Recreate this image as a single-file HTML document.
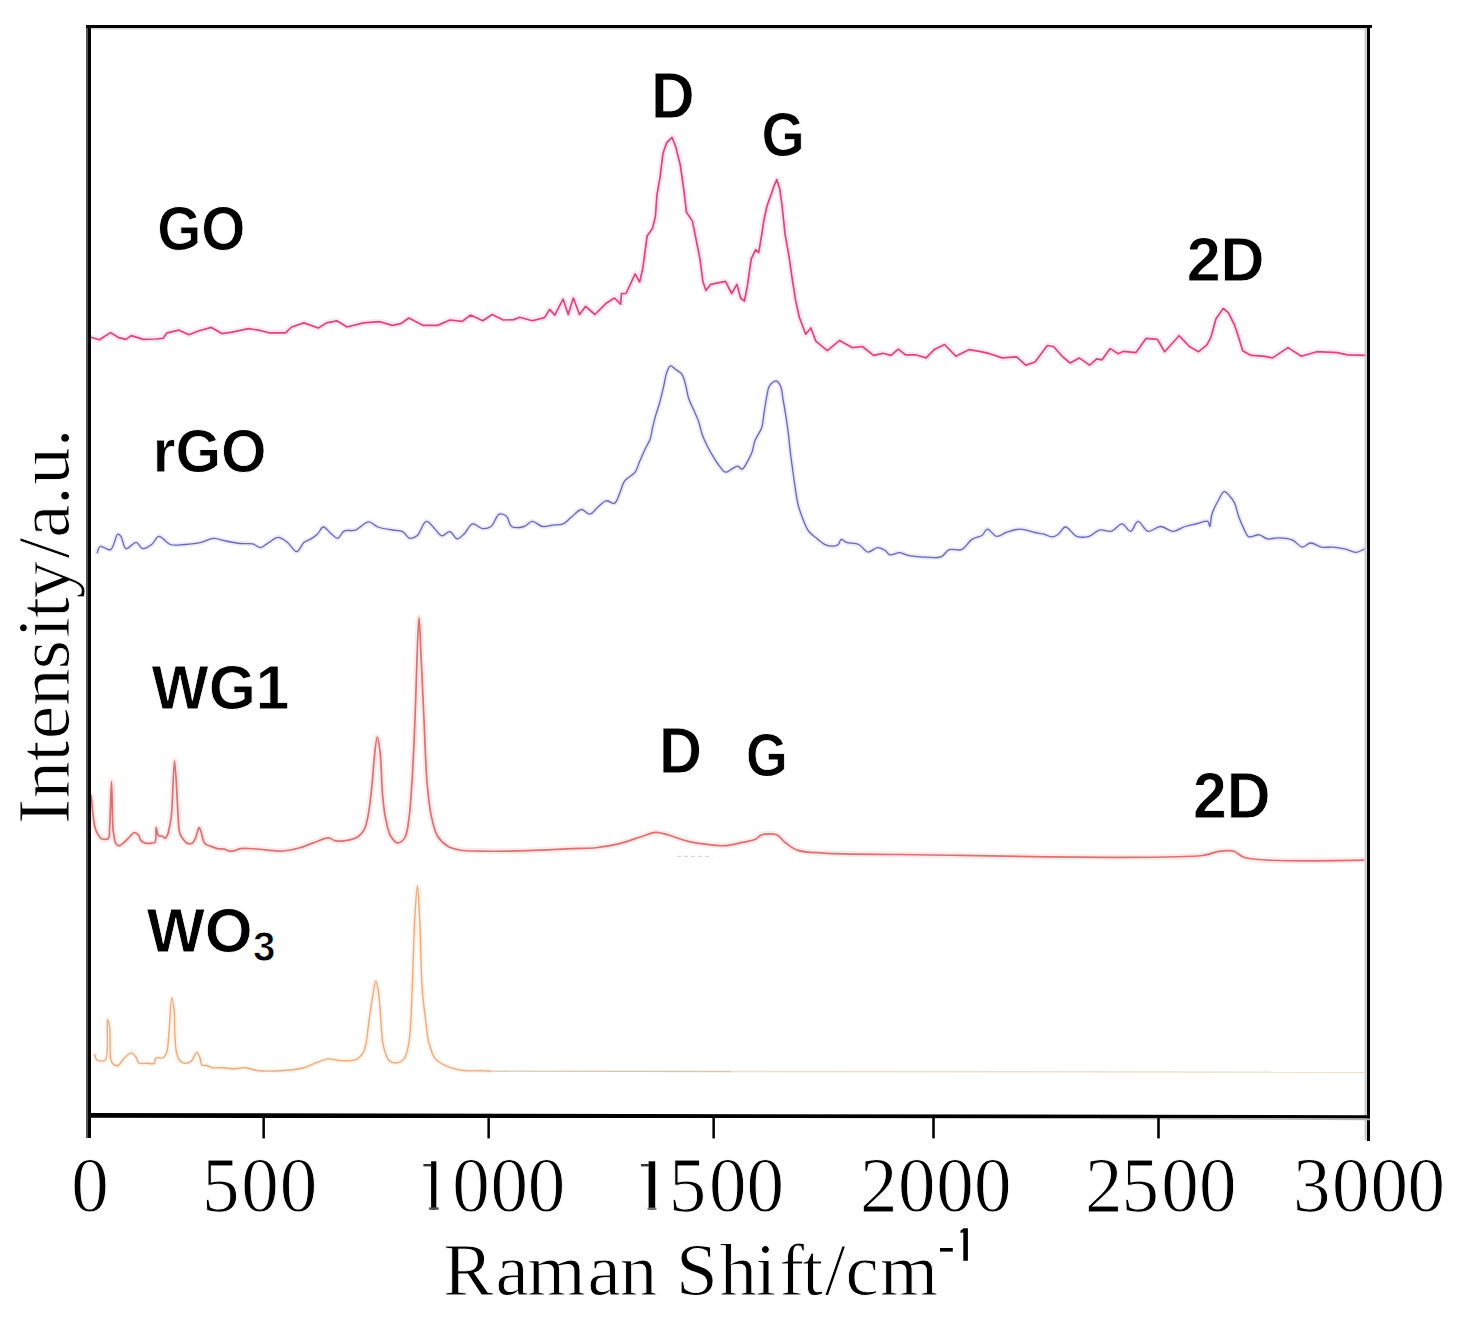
<!DOCTYPE html>
<html><head><meta charset="utf-8"><style>
html,body{margin:0;padding:0;background:#fff;}
body{width:1459px;height:1328px;overflow:hidden;}
svg{display:block;}
.ser{font-family:"Liberation Serif",serif;fill:#000;stroke:#fff;stroke-width:0.9px;}
.sans{font-family:"Liberation Sans",sans-serif;fill:#000;}
.lab{font-family:"Liberation Sans",sans-serif;font-weight:bold;fill:#000;stroke:#fff;stroke-width:0.8px;}
</style></head><body>
<svg width="1459" height="1328" viewBox="0 0 1459 1328">
<rect x="0" y="0" width="1459" height="1328" fill="#fff"/>
<g fill="none" stroke-linejoin="round" stroke-linecap="round">
<polyline points="91.0,337.3 99.3,339.8 110.6,332.6 118.8,337.7 126.0,339.4 131.2,335.6 143.5,339.4 155.9,339.0 163.0,338.3 167.2,332.8 178.5,330.1 188.8,334.8 199.0,330.7 211.4,327.4 221.7,333.6 232.0,332.2 248.4,328.7 258.7,330.1 269.0,332.8 285.4,332.8 291.6,327.0 303.9,322.9 318.3,328.0 326.5,322.9 336.8,320.8 347.1,327.0 363.5,322.9 375.9,321.9 380.0,321.7 392.3,325.4 400.6,323.7 408.8,318.0 423.2,325.4 437.6,325.4 449.9,320.0 462.3,321.3 470.5,315.1 482.8,320.7 492.1,314.5 503.4,320.0 513.7,319.6 519.8,317.2 532.2,320.7 544.5,317.6 549.6,309.4 554.8,315.1 563.0,299.1 568.2,314.5 573.3,298.0 579.5,314.5 585.6,306.3 594.9,314.5 606.2,303.2 614.4,298.0 620.6,304.2 621.5,293.5 626.0,293.5 635.1,273.8 639.6,282.1 642.6,269.3 644.9,252.7 647.1,236.1 652.4,228.6 655.4,216.5 656.9,195.4 660.0,177.3 663.0,153.2 666.7,142.6 672.0,137.3 675.8,147.1 680.3,165.2 683.3,186.4 685.6,204.5 686.3,212.0 692.4,221.1 693.9,228.6 696.9,243.7 699.9,258.8 702.9,281.4 705.9,290.4 710.5,284.4 718.0,282.9 725.5,281.4 731.6,293.5 736.9,284.4 740.6,298.0 744.4,301.0 747.4,285.9 751.2,258.8 755.7,249.7 758.7,252.7 761.7,234.6 764.0,219.5 767.0,206.0 770.8,195.4 773.8,186.4 776.8,179.6 779.8,189.4 782.1,206.0 785.1,234.6 788.9,255.7 791.9,276.9 795.7,301.0 799.4,317.6 800.6,320.8 805.7,334.2 810.8,328.0 816.0,341.4 827.3,350.7 839.6,340.4 852.0,347.6 862.3,346.5 873.6,355.4 882.8,353.3 891.0,355.4 898.2,349.2 905.4,354.8 915.7,354.8 926.0,357.9 934.2,349.6 944.5,344.5 955.8,356.2 969.2,349.6 979.5,351.3 989.7,353.7 1002.1,357.9 1016.5,356.8 1025.7,365.1 1035.0,362.0 1047.3,345.5 1053.5,346.5 1061.7,355.8 1070.0,363.0 1079.3,357.9 1089.5,365.1 1096.7,358.9 1101.9,359.9 1110.1,348.6 1118.3,353.7 1123.5,351.3 1135.8,352.7 1146.1,338.3 1157.4,339.4 1164.6,351.7 1179.0,335.7 1189.3,346.5 1198.5,351.7 1206.7,345.1 1210.9,337.3 1216.0,318.8 1223.2,308.5 1228.3,312.6 1234.5,325.0 1238.6,337.3 1242.7,350.7 1251.0,355.4 1263.3,356.2 1272.5,357.9 1288.0,347.6 1301.3,356.2 1316.8,351.7 1337.3,352.7 1347.6,354.8 1366.1,355.4" stroke="#ffe6f1" stroke-width="6"/>
<path d="M97.30,552.70 C97.30,552.70 98.52,547.28 100.30,546.50 C102.52,545.52 107.84,550.83 110.60,549.60 C114.07,548.05 115.53,534.82 117.80,534.20 C118.86,533.91 119.91,535.09 120.90,536.30 C122.76,538.58 123.32,547.72 126.00,548.60 C128.55,549.44 133.41,542.05 136.30,542.40 C138.77,542.70 140.05,548.15 142.50,548.60 C145.13,549.09 149.01,546.48 151.70,544.50 C154.50,542.44 156.06,536.62 158.90,536.30 C162.13,535.93 166.04,543.13 170.30,544.50 C174.60,545.89 179.67,544.81 184.60,544.50 C189.91,544.16 196.05,543.55 201.10,542.40 C205.55,541.38 209.26,538.52 213.40,538.30 C217.50,538.08 221.50,540.16 225.80,541.00 C230.41,541.90 235.57,543.03 240.20,543.50 C244.45,543.94 248.89,543.06 252.50,543.90 C255.59,544.62 258.01,547.78 260.70,547.60 C263.51,547.41 266.14,544.09 269.00,542.40 C271.97,540.65 275.12,537.31 278.20,537.30 C281.29,537.29 284.56,540.18 287.50,542.40 C290.76,544.86 293.91,551.87 296.70,551.70 C299.35,551.54 301.33,544.48 303.90,542.40 C305.87,540.81 308.01,540.65 310.10,539.40 C312.47,537.98 315.11,536.23 317.30,534.20 C319.56,532.11 321.19,527.17 323.40,527.00 C325.62,526.83 328.15,531.29 330.60,533.20 C332.96,535.04 335.60,538.57 337.80,538.30 C340.08,538.02 341.27,532.50 344.00,531.10 C346.98,529.57 351.52,531.35 355.30,530.10 C359.75,528.63 364.63,521.99 368.70,521.90 C372.03,521.83 374.38,525.69 377.90,527.00 C382.06,528.55 387.89,529.18 392.30,530.00 C396.01,530.69 399.65,530.27 402.60,531.70 C405.45,533.09 407.23,537.77 409.80,538.30 C412.07,538.77 414.73,537.58 417.00,535.80 C420.40,533.13 422.92,521.86 426.30,521.40 C429.17,521.01 432.77,527.02 435.50,529.60 C437.80,531.78 439.33,535.42 441.70,535.80 C444.12,536.19 447.39,531.29 449.90,531.70 C452.55,532.13 454.61,538.70 457.10,538.90 C459.42,539.09 461.96,535.88 464.30,533.70 C467.11,531.08 469.30,524.63 472.50,523.90 C475.52,523.22 479.51,528.31 482.80,528.60 C485.64,528.85 488.54,528.23 491.00,526.50 C494.25,524.21 496.18,515.33 499.30,514.20 C501.52,513.40 504.56,514.68 506.50,516.30 C508.90,518.30 508.80,524.77 511.60,526.50 C514.51,528.30 520.32,527.51 523.90,526.50 C527.08,525.60 529.25,521.53 532.20,521.40 C535.39,521.26 538.90,525.92 542.40,526.50 C545.74,527.05 549.26,525.53 552.70,525.10 C556.13,524.67 559.93,525.19 563.00,523.90 C566.10,522.60 568.29,519.57 571.20,517.30 C574.42,514.79 578.19,509.71 581.50,509.50 C584.33,509.32 587.05,514.46 589.70,514.20 C592.56,513.92 595.20,509.27 598.00,507.00 C600.71,504.81 603.33,501.31 606.20,500.80 C608.82,500.33 612.23,504.20 614.40,503.30 C616.86,502.29 617.99,497.08 619.60,493.60 C621.38,489.77 621.96,484.74 624.50,481.20 C627.09,477.58 632.55,475.66 635.10,472.20 C637.42,469.05 638.03,465.25 639.60,461.60 C641.28,457.70 643.08,453.37 644.90,449.50 C646.62,445.85 648.94,442.59 650.20,439.00 C651.40,435.55 651.57,432.03 652.40,428.40 C653.29,424.52 654.28,420.39 655.40,416.40 C656.54,412.36 657.95,408.76 659.20,404.30 C660.72,398.89 662.38,391.81 663.70,386.20 C664.84,381.35 665.30,376.27 666.70,372.60 C667.74,369.85 668.89,366.16 670.50,365.80 C671.98,365.47 673.99,368.27 675.80,369.60 C677.75,371.03 680.23,371.98 681.80,374.10 C683.72,376.70 684.51,380.91 685.60,384.70 C686.82,388.92 687.18,393.98 688.60,398.30 C689.97,402.50 692.22,406.42 693.90,410.30 C695.48,413.94 697.07,417.10 698.40,420.90 C699.87,425.11 700.64,430.16 702.20,434.50 C703.70,438.68 705.58,442.67 707.50,446.50 C709.35,450.19 711.44,453.75 713.50,457.10 C715.44,460.26 717.37,463.48 719.50,466.10 C721.40,468.43 723.35,471.83 725.50,472.20 C727.42,472.53 729.58,470.22 731.60,469.20 C733.61,468.18 735.78,465.98 737.60,466.10 C739.24,466.20 740.66,469.46 742.10,469.20 C743.97,468.86 745.79,464.30 747.40,461.60 C749.07,458.78 750.67,455.89 751.90,452.60 C753.27,448.93 753.46,444.50 755.00,440.50 C756.65,436.20 760.20,432.22 761.70,427.70 C763.21,423.16 763.17,418.37 764.00,413.30 C764.93,407.61 765.95,400.17 767.00,395.20 C767.74,391.66 767.73,388.61 769.30,386.20 C770.82,383.88 774.15,380.70 776.10,380.90 C777.85,381.08 779.50,383.89 780.60,386.20 C782.07,389.27 782.11,393.86 782.90,398.30 C783.86,403.72 785.00,410.65 785.90,416.40 C786.72,421.63 787.41,425.96 788.10,431.40 C788.92,437.85 789.60,445.97 790.40,452.60 C791.11,458.48 791.85,463.68 792.60,469.20 C793.35,474.71 794.04,480.08 794.90,485.70 C795.80,491.60 796.61,498.41 797.90,503.80 C798.97,508.28 800.10,511.69 801.70,515.90 C803.53,520.71 805.71,527.16 808.50,531.00 C810.68,534.00 813.32,535.59 816.00,537.80 C818.84,540.14 821.90,543.23 825.10,544.60 C827.97,545.82 831.71,546.35 834.10,546.10 C835.76,545.93 837.05,545.46 838.20,544.50 C839.53,543.38 839.92,539.75 841.30,539.40 C842.68,539.05 844.31,541.61 846.50,542.40 C849.65,543.54 855.19,542.84 858.80,544.50 C862.33,546.12 864.80,551.71 868.00,552.10 C870.98,552.46 874.27,547.74 877.30,547.60 C880.09,547.48 883.35,549.31 885.50,550.70 C887.25,551.83 887.73,554.24 889.60,554.80 C892.12,555.56 896.69,552.51 899.90,552.70 C902.81,552.87 905.05,554.73 908.10,555.40 C911.77,556.20 915.84,556.54 920.50,556.80 C926.47,557.14 935.93,558.69 941.00,556.80 C944.71,555.41 945.99,550.83 949.30,549.60 C952.80,548.29 957.95,551.10 961.60,549.60 C965.56,547.97 968.21,541.84 971.90,539.40 C975.13,537.26 979.54,537.14 982.20,535.20 C984.45,533.56 985.22,529.33 987.30,529.10 C989.83,528.83 993.29,535.84 996.60,536.30 C999.80,536.75 1003.12,533.36 1006.80,532.20 C1010.92,530.91 1015.73,529.10 1020.20,529.10 C1024.67,529.10 1029.42,531.31 1033.60,532.20 C1037.25,532.98 1040.69,533.36 1043.90,534.20 C1046.81,534.96 1049.58,537.02 1052.10,536.90 C1054.33,536.80 1056.29,535.58 1058.30,534.20 C1060.75,532.51 1062.68,527.15 1065.40,527.00 C1068.68,526.82 1072.64,534.82 1076.80,536.30 C1080.60,537.65 1085.32,537.35 1089.10,536.30 C1092.84,535.26 1095.66,530.98 1099.40,530.10 C1103.19,529.21 1107.95,532.12 1111.70,531.10 C1115.49,530.07 1118.77,523.75 1122.00,523.90 C1125.08,524.05 1128.09,531.61 1130.70,531.30 C1133.41,530.98 1135.14,521.64 1137.90,521.40 C1140.88,521.14 1144.26,530.52 1148.10,531.30 C1151.82,532.06 1156.38,526.49 1160.50,526.50 C1164.61,526.51 1168.69,531.29 1172.80,531.30 C1176.92,531.31 1181.03,527.81 1185.20,526.50 C1189.27,525.22 1193.57,524.38 1197.50,523.50 C1201.08,522.70 1205.82,520.33 1207.80,521.40 C1209.23,522.18 1209.21,526.56 1209.80,526.50 C1210.68,526.41 1210.63,518.30 1211.90,514.20 C1213.29,509.74 1215.88,504.77 1218.10,500.80 C1220.02,497.36 1222.05,491.94 1224.20,491.60 C1225.86,491.33 1227.79,494.00 1229.40,495.70 C1231.26,497.66 1233.07,499.99 1234.50,502.90 C1236.30,506.56 1237.03,511.97 1238.60,516.30 C1240.14,520.53 1241.92,524.98 1243.80,528.60 C1245.40,531.68 1246.42,535.72 1248.90,536.80 C1251.49,537.93 1256.03,534.37 1259.20,534.80 C1262.16,535.21 1264.43,538.35 1267.40,538.90 C1270.56,539.49 1273.98,537.82 1277.70,537.90 C1282.10,537.99 1287.87,538.24 1292.10,539.90 C1296.03,541.44 1299.09,546.86 1302.40,547.10 C1305.23,547.31 1307.61,543.16 1310.60,543.00 C1314.03,542.82 1318.07,546.53 1321.90,547.20 C1325.61,547.85 1329.37,546.79 1333.20,547.10 C1337.23,547.42 1341.61,548.29 1345.50,549.20 C1349.11,550.05 1352.58,552.41 1355.80,552.30 C1358.71,552.20 1364.00,549.20 1364.00,549.20" stroke="#ebebfa" stroke-width="5"/>
<path d="M91.20,795.90 C91.20,795.90 93.24,820.14 94.80,826.60 C95.55,829.71 96.16,831.27 97.30,833.30 C98.41,835.29 99.66,837.83 101.50,838.70 C103.33,839.56 106.88,839.79 108.30,838.50 C110.09,836.86 109.21,832.56 109.60,827.70 C110.41,817.67 110.95,781.50 111.50,781.50 C112.05,781.50 112.18,818.35 112.90,827.70 C113.22,831.79 113.50,833.79 114.00,836.50 C114.43,838.87 114.59,841.49 115.60,843.10 C116.40,844.37 117.64,845.75 118.90,845.80 C120.48,845.86 122.63,843.47 124.40,842.00 C126.31,840.41 128.14,838.14 129.90,836.50 C131.42,835.09 132.80,832.81 134.30,832.70 C135.70,832.59 137.52,834.15 138.60,835.40 C139.72,836.69 139.67,839.11 140.80,840.40 C141.90,841.66 143.51,842.62 145.20,843.10 C147.11,843.64 150.00,843.39 151.80,843.10 C153.11,842.89 154.30,843.02 155.10,842.00 C156.72,839.93 155.48,827.77 156.20,827.70 C156.74,827.65 156.97,834.02 158.40,835.40 C159.47,836.44 161.63,835.93 162.80,836.50 C163.72,836.94 164.29,838.31 165.00,838.20 C165.93,838.06 167.01,835.85 167.70,834.30 C168.53,832.45 168.78,830.06 169.30,827.70 C169.89,825.01 170.55,822.21 171.00,819.00 C171.55,815.07 171.71,811.51 172.10,805.80 C172.82,795.30 173.62,761.01 174.50,761.00 C175.27,760.99 176.38,784.73 177.00,794.80 C177.50,802.91 177.58,810.01 178.10,816.80 C178.55,822.67 178.62,829.39 179.80,833.20 C180.49,835.44 181.38,836.61 182.50,838.20 C183.71,839.92 185.15,842.32 186.90,843.10 C188.50,843.81 190.96,843.92 192.40,843.10 C193.96,842.22 194.70,839.76 195.70,837.60 C196.97,834.84 197.95,827.77 199.00,827.70 C199.72,827.66 200.50,830.45 201.10,832.10 C201.81,834.05 202.10,836.68 202.80,838.70 C203.43,840.51 203.75,842.44 205.00,843.70 C206.37,845.09 208.93,845.59 211.00,846.40 C213.13,847.23 215.37,848.15 217.60,848.60 C219.77,849.04 222.25,848.66 224.20,849.10 C225.85,849.47 227.03,850.51 228.60,850.80 C230.28,851.11 232.14,851.10 234.00,850.80 C236.12,850.46 237.89,849.00 240.60,848.60 C244.68,847.99 250.50,848.68 256.30,849.00 C263.55,849.40 273.17,851.41 280.70,851.10 C287.26,850.83 293.35,849.48 299.00,848.00 C304.10,846.66 308.37,844.56 313.20,842.90 C318.19,841.19 324.39,837.73 328.50,837.90 C331.34,838.02 332.76,840.43 335.60,840.90 C339.46,841.54 345.77,840.78 349.80,839.90 C352.96,839.21 355.64,838.45 358.00,836.80 C360.44,835.09 362.50,832.69 364.10,829.70 C366.11,825.95 366.93,821.25 368.10,815.50 C369.84,806.93 371.15,793.07 372.20,783.00 C373.11,774.30 373.31,766.45 374.20,758.60 C375.04,751.22 376.23,737.21 377.30,737.20 C378.27,737.19 379.51,747.56 380.30,754.50 C381.47,764.79 381.39,781.72 382.40,793.10 C383.20,802.18 383.90,810.00 385.40,817.50 C386.72,824.09 387.90,831.35 390.50,835.80 C392.39,839.04 395.14,842.69 397.60,842.90 C399.89,843.10 402.92,840.57 404.70,837.90 C407.32,833.97 407.70,826.79 408.80,819.60 C410.35,809.54 410.98,796.76 411.90,783.00 C413.09,765.26 414.07,742.34 414.90,722.00 C415.73,701.67 416.15,679.62 416.90,661.00 C417.54,645.27 418.29,617.50 419.00,617.50 C419.66,617.50 420.29,640.62 421.00,654.90 C421.95,674.02 423.06,700.17 424.10,722.00 C425.09,742.82 425.60,765.87 427.10,783.00 C428.20,795.55 429.19,806.01 431.20,815.50 C432.82,823.13 434.14,830.48 437.30,835.80 C439.90,840.18 443.55,843.62 447.40,846.00 C451.04,848.25 454.95,849.13 459.60,850.00 C465.47,851.10 471.73,850.91 480.00,851.10 C492.79,851.39 513.01,851.14 528.90,850.70 C544.04,850.28 561.22,849.06 573.20,848.60 C581.36,848.29 586.72,848.67 593.80,848.00 C601.42,847.28 609.61,846.04 617.40,844.20 C625.31,842.33 633.96,838.92 640.90,836.80 C646.39,835.12 651.02,832.61 655.70,832.40 C659.83,832.22 663.06,833.65 667.50,834.80 C673.45,836.34 681.44,839.71 688.10,841.30 C694.17,842.75 699.89,843.47 705.80,844.20 C711.69,844.93 717.62,845.95 723.50,845.70 C729.39,845.45 735.51,843.89 741.10,842.70 C746.27,841.60 752.19,840.60 755.90,838.90 C758.44,837.74 759.23,835.60 761.80,834.80 C765.47,833.65 772.44,833.26 776.50,834.80 C780.15,836.19 782.12,840.23 785.40,842.70 C788.94,845.36 792.16,848.36 797.10,850.10 C803.96,852.51 812.53,852.37 823.70,853.10 C842.56,854.33 866.14,854.13 900.00,854.50 C967.42,855.23 1164.43,860.21 1202.50,855.50 C1211.53,854.38 1213.61,851.98 1219.00,851.30 C1224.03,850.67 1229.32,850.12 1233.80,851.30 C1238.04,852.41 1239.13,856.11 1245.30,857.80 C1263.79,862.85 1363.70,860.10 1363.70,860.10" stroke="#ffe9e9" stroke-width="6"/>
<path d="M94.80,1054.60 C94.80,1054.60 95.55,1059.02 97.00,1060.00 C98.72,1061.16 103.21,1061.88 105.20,1060.00 C109.61,1055.83 106.14,1019.95 107.50,1019.80 C108.09,1019.73 109.07,1023.77 109.60,1027.10 C110.68,1033.92 109.16,1052.76 110.70,1058.90 C111.37,1061.59 112.07,1063.32 113.40,1064.40 C114.55,1065.33 116.33,1065.96 117.80,1065.50 C119.99,1064.81 122.02,1060.05 124.40,1057.90 C126.61,1055.90 129.42,1052.71 131.50,1052.90 C133.37,1053.07 135.19,1056.13 136.40,1057.90 C137.46,1059.45 137.18,1061.83 138.60,1062.80 C140.41,1064.05 144.68,1063.22 147.40,1063.30 C149.76,1063.37 152.53,1064.29 154.00,1063.30 C155.38,1062.37 154.82,1058.83 156.20,1057.90 C157.67,1056.91 161.07,1058.81 162.80,1057.90 C164.54,1056.99 165.64,1054.91 166.60,1052.40 C168.16,1048.32 168.08,1041.75 168.80,1034.80 C169.84,1024.74 170.62,997.85 171.80,997.80 C172.56,997.77 173.78,1007.38 174.30,1012.90 C174.92,1019.50 174.39,1027.91 174.80,1034.80 C175.17,1040.99 175.48,1047.80 176.50,1052.40 C177.19,1055.51 177.69,1058.15 179.20,1060.00 C180.55,1061.65 182.73,1063.08 184.70,1063.30 C186.75,1063.53 189.41,1062.58 191.30,1061.10 C193.60,1059.30 195.23,1052.37 196.80,1052.40 C198.03,1052.42 199.19,1055.89 200.00,1057.90 C200.86,1060.06 200.35,1063.82 201.70,1065.00 C202.81,1065.97 204.95,1065.09 206.60,1065.50 C208.41,1065.95 209.90,1067.28 212.10,1067.70 C215.09,1068.28 219.45,1067.52 223.10,1067.70 C226.75,1067.88 230.28,1068.78 234.00,1068.80 C237.90,1068.82 242.15,1067.38 246.00,1067.70 C249.67,1068.01 252.18,1069.93 256.60,1070.50 C263.68,1071.42 276.36,1071.07 284.70,1070.50 C291.44,1070.04 297.22,1069.47 302.90,1068.00 C308.20,1066.62 313.31,1063.81 317.80,1062.20 C321.45,1060.89 324.30,1059.22 327.80,1058.90 C331.49,1058.56 335.18,1060.31 339.40,1060.50 C344.41,1060.72 351.72,1061.55 355.90,1059.70 C359.25,1058.22 361.73,1054.98 363.40,1052.20 C364.90,1049.70 365.14,1047.51 365.90,1044.00 C367.21,1037.99 368.06,1027.09 369.20,1019.10 C370.26,1011.66 371.32,1004.29 372.50,997.60 C373.54,991.70 374.72,981.03 375.80,981.00 C376.64,980.98 377.59,986.79 378.30,991.00 C379.47,997.97 379.95,1009.87 380.80,1019.10 C381.62,1028.06 381.53,1038.13 383.30,1045.60 C384.67,1051.39 386.34,1057.76 389.10,1060.50 C390.93,1062.32 393.40,1063.11 395.70,1063.00 C398.33,1062.87 401.90,1061.40 404.00,1058.90 C406.87,1055.48 407.63,1049.57 408.90,1042.30 C411.20,1029.18 411.36,1005.54 412.30,986.00 C413.32,964.81 413.63,938.12 414.70,919.70 C415.46,906.51 416.57,885.80 417.40,885.80 C418.23,885.80 419.01,906.38 419.70,919.70 C420.69,938.77 420.86,970.97 422.20,989.30 C423.08,1001.33 424.32,1009.80 425.50,1019.10 C426.54,1027.33 426.94,1035.31 428.80,1042.30 C430.42,1048.40 432.03,1054.82 435.40,1058.90 C438.36,1062.48 442.62,1064.41 447.00,1066.30 C451.89,1068.41 458.04,1069.76 463.60,1070.50 C469.04,1071.23 475.21,1070.71 480.00,1070.80 C483.74,1070.87 490.00,1071.00 490.00,1071.00" stroke="#fff3e8" stroke-width="5"/>
<polyline points="91.0,337.3 99.3,339.8 110.6,332.6 118.8,337.7 126.0,339.4 131.2,335.6 143.5,339.4 155.9,339.0 163.0,338.3 167.2,332.8 178.5,330.1 188.8,334.8 199.0,330.7 211.4,327.4 221.7,333.6 232.0,332.2 248.4,328.7 258.7,330.1 269.0,332.8 285.4,332.8 291.6,327.0 303.9,322.9 318.3,328.0 326.5,322.9 336.8,320.8 347.1,327.0 363.5,322.9 375.9,321.9 380.0,321.7 392.3,325.4 400.6,323.7 408.8,318.0 423.2,325.4 437.6,325.4 449.9,320.0 462.3,321.3 470.5,315.1 482.8,320.7 492.1,314.5 503.4,320.0 513.7,319.6 519.8,317.2 532.2,320.7 544.5,317.6 549.6,309.4 554.8,315.1 563.0,299.1 568.2,314.5 573.3,298.0 579.5,314.5 585.6,306.3 594.9,314.5 606.2,303.2 614.4,298.0 620.6,304.2 621.5,293.5 626.0,293.5 635.1,273.8 639.6,282.1 642.6,269.3 644.9,252.7 647.1,236.1 652.4,228.6 655.4,216.5 656.9,195.4 660.0,177.3 663.0,153.2 666.7,142.6 672.0,137.3 675.8,147.1 680.3,165.2 683.3,186.4 685.6,204.5 686.3,212.0 692.4,221.1 693.9,228.6 696.9,243.7 699.9,258.8 702.9,281.4 705.9,290.4 710.5,284.4 718.0,282.9 725.5,281.4 731.6,293.5 736.9,284.4 740.6,298.0 744.4,301.0 747.4,285.9 751.2,258.8 755.7,249.7 758.7,252.7 761.7,234.6 764.0,219.5 767.0,206.0 770.8,195.4 773.8,186.4 776.8,179.6 779.8,189.4 782.1,206.0 785.1,234.6 788.9,255.7 791.9,276.9 795.7,301.0 799.4,317.6 800.6,320.8 805.7,334.2 810.8,328.0 816.0,341.4 827.3,350.7 839.6,340.4 852.0,347.6 862.3,346.5 873.6,355.4 882.8,353.3 891.0,355.4 898.2,349.2 905.4,354.8 915.7,354.8 926.0,357.9 934.2,349.6 944.5,344.5 955.8,356.2 969.2,349.6 979.5,351.3 989.7,353.7 1002.1,357.9 1016.5,356.8 1025.7,365.1 1035.0,362.0 1047.3,345.5 1053.5,346.5 1061.7,355.8 1070.0,363.0 1079.3,357.9 1089.5,365.1 1096.7,358.9 1101.9,359.9 1110.1,348.6 1118.3,353.7 1123.5,351.3 1135.8,352.7 1146.1,338.3 1157.4,339.4 1164.6,351.7 1179.0,335.7 1189.3,346.5 1198.5,351.7 1206.7,345.1 1210.9,337.3 1216.0,318.8 1223.2,308.5 1228.3,312.6 1234.5,325.0 1238.6,337.3 1242.7,350.7 1251.0,355.4 1263.3,356.2 1272.5,357.9 1288.0,347.6 1301.3,356.2 1316.8,351.7 1337.3,352.7 1347.6,354.8 1366.1,355.4" stroke="#d6487f" stroke-width="1.7"/>
<path d="M97.30,552.70 C97.30,552.70 98.52,547.28 100.30,546.50 C102.52,545.52 107.84,550.83 110.60,549.60 C114.07,548.05 115.53,534.82 117.80,534.20 C118.86,533.91 119.91,535.09 120.90,536.30 C122.76,538.58 123.32,547.72 126.00,548.60 C128.55,549.44 133.41,542.05 136.30,542.40 C138.77,542.70 140.05,548.15 142.50,548.60 C145.13,549.09 149.01,546.48 151.70,544.50 C154.50,542.44 156.06,536.62 158.90,536.30 C162.13,535.93 166.04,543.13 170.30,544.50 C174.60,545.89 179.67,544.81 184.60,544.50 C189.91,544.16 196.05,543.55 201.10,542.40 C205.55,541.38 209.26,538.52 213.40,538.30 C217.50,538.08 221.50,540.16 225.80,541.00 C230.41,541.90 235.57,543.03 240.20,543.50 C244.45,543.94 248.89,543.06 252.50,543.90 C255.59,544.62 258.01,547.78 260.70,547.60 C263.51,547.41 266.14,544.09 269.00,542.40 C271.97,540.65 275.12,537.31 278.20,537.30 C281.29,537.29 284.56,540.18 287.50,542.40 C290.76,544.86 293.91,551.87 296.70,551.70 C299.35,551.54 301.33,544.48 303.90,542.40 C305.87,540.81 308.01,540.65 310.10,539.40 C312.47,537.98 315.11,536.23 317.30,534.20 C319.56,532.11 321.19,527.17 323.40,527.00 C325.62,526.83 328.15,531.29 330.60,533.20 C332.96,535.04 335.60,538.57 337.80,538.30 C340.08,538.02 341.27,532.50 344.00,531.10 C346.98,529.57 351.52,531.35 355.30,530.10 C359.75,528.63 364.63,521.99 368.70,521.90 C372.03,521.83 374.38,525.69 377.90,527.00 C382.06,528.55 387.89,529.18 392.30,530.00 C396.01,530.69 399.65,530.27 402.60,531.70 C405.45,533.09 407.23,537.77 409.80,538.30 C412.07,538.77 414.73,537.58 417.00,535.80 C420.40,533.13 422.92,521.86 426.30,521.40 C429.17,521.01 432.77,527.02 435.50,529.60 C437.80,531.78 439.33,535.42 441.70,535.80 C444.12,536.19 447.39,531.29 449.90,531.70 C452.55,532.13 454.61,538.70 457.10,538.90 C459.42,539.09 461.96,535.88 464.30,533.70 C467.11,531.08 469.30,524.63 472.50,523.90 C475.52,523.22 479.51,528.31 482.80,528.60 C485.64,528.85 488.54,528.23 491.00,526.50 C494.25,524.21 496.18,515.33 499.30,514.20 C501.52,513.40 504.56,514.68 506.50,516.30 C508.90,518.30 508.80,524.77 511.60,526.50 C514.51,528.30 520.32,527.51 523.90,526.50 C527.08,525.60 529.25,521.53 532.20,521.40 C535.39,521.26 538.90,525.92 542.40,526.50 C545.74,527.05 549.26,525.53 552.70,525.10 C556.13,524.67 559.93,525.19 563.00,523.90 C566.10,522.60 568.29,519.57 571.20,517.30 C574.42,514.79 578.19,509.71 581.50,509.50 C584.33,509.32 587.05,514.46 589.70,514.20 C592.56,513.92 595.20,509.27 598.00,507.00 C600.71,504.81 603.33,501.31 606.20,500.80 C608.82,500.33 612.23,504.20 614.40,503.30 C616.86,502.29 617.99,497.08 619.60,493.60 C621.38,489.77 621.96,484.74 624.50,481.20 C627.09,477.58 632.55,475.66 635.10,472.20 C637.42,469.05 638.03,465.25 639.60,461.60 C641.28,457.70 643.08,453.37 644.90,449.50 C646.62,445.85 648.94,442.59 650.20,439.00 C651.40,435.55 651.57,432.03 652.40,428.40 C653.29,424.52 654.28,420.39 655.40,416.40 C656.54,412.36 657.95,408.76 659.20,404.30 C660.72,398.89 662.38,391.81 663.70,386.20 C664.84,381.35 665.30,376.27 666.70,372.60 C667.74,369.85 668.89,366.16 670.50,365.80 C671.98,365.47 673.99,368.27 675.80,369.60 C677.75,371.03 680.23,371.98 681.80,374.10 C683.72,376.70 684.51,380.91 685.60,384.70 C686.82,388.92 687.18,393.98 688.60,398.30 C689.97,402.50 692.22,406.42 693.90,410.30 C695.48,413.94 697.07,417.10 698.40,420.90 C699.87,425.11 700.64,430.16 702.20,434.50 C703.70,438.68 705.58,442.67 707.50,446.50 C709.35,450.19 711.44,453.75 713.50,457.10 C715.44,460.26 717.37,463.48 719.50,466.10 C721.40,468.43 723.35,471.83 725.50,472.20 C727.42,472.53 729.58,470.22 731.60,469.20 C733.61,468.18 735.78,465.98 737.60,466.10 C739.24,466.20 740.66,469.46 742.10,469.20 C743.97,468.86 745.79,464.30 747.40,461.60 C749.07,458.78 750.67,455.89 751.90,452.60 C753.27,448.93 753.46,444.50 755.00,440.50 C756.65,436.20 760.20,432.22 761.70,427.70 C763.21,423.16 763.17,418.37 764.00,413.30 C764.93,407.61 765.95,400.17 767.00,395.20 C767.74,391.66 767.73,388.61 769.30,386.20 C770.82,383.88 774.15,380.70 776.10,380.90 C777.85,381.08 779.50,383.89 780.60,386.20 C782.07,389.27 782.11,393.86 782.90,398.30 C783.86,403.72 785.00,410.65 785.90,416.40 C786.72,421.63 787.41,425.96 788.10,431.40 C788.92,437.85 789.60,445.97 790.40,452.60 C791.11,458.48 791.85,463.68 792.60,469.20 C793.35,474.71 794.04,480.08 794.90,485.70 C795.80,491.60 796.61,498.41 797.90,503.80 C798.97,508.28 800.10,511.69 801.70,515.90 C803.53,520.71 805.71,527.16 808.50,531.00 C810.68,534.00 813.32,535.59 816.00,537.80 C818.84,540.14 821.90,543.23 825.10,544.60 C827.97,545.82 831.71,546.35 834.10,546.10 C835.76,545.93 837.05,545.46 838.20,544.50 C839.53,543.38 839.92,539.75 841.30,539.40 C842.68,539.05 844.31,541.61 846.50,542.40 C849.65,543.54 855.19,542.84 858.80,544.50 C862.33,546.12 864.80,551.71 868.00,552.10 C870.98,552.46 874.27,547.74 877.30,547.60 C880.09,547.48 883.35,549.31 885.50,550.70 C887.25,551.83 887.73,554.24 889.60,554.80 C892.12,555.56 896.69,552.51 899.90,552.70 C902.81,552.87 905.05,554.73 908.10,555.40 C911.77,556.20 915.84,556.54 920.50,556.80 C926.47,557.14 935.93,558.69 941.00,556.80 C944.71,555.41 945.99,550.83 949.30,549.60 C952.80,548.29 957.95,551.10 961.60,549.60 C965.56,547.97 968.21,541.84 971.90,539.40 C975.13,537.26 979.54,537.14 982.20,535.20 C984.45,533.56 985.22,529.33 987.30,529.10 C989.83,528.83 993.29,535.84 996.60,536.30 C999.80,536.75 1003.12,533.36 1006.80,532.20 C1010.92,530.91 1015.73,529.10 1020.20,529.10 C1024.67,529.10 1029.42,531.31 1033.60,532.20 C1037.25,532.98 1040.69,533.36 1043.90,534.20 C1046.81,534.96 1049.58,537.02 1052.10,536.90 C1054.33,536.80 1056.29,535.58 1058.30,534.20 C1060.75,532.51 1062.68,527.15 1065.40,527.00 C1068.68,526.82 1072.64,534.82 1076.80,536.30 C1080.60,537.65 1085.32,537.35 1089.10,536.30 C1092.84,535.26 1095.66,530.98 1099.40,530.10 C1103.19,529.21 1107.95,532.12 1111.70,531.10 C1115.49,530.07 1118.77,523.75 1122.00,523.90 C1125.08,524.05 1128.09,531.61 1130.70,531.30 C1133.41,530.98 1135.14,521.64 1137.90,521.40 C1140.88,521.14 1144.26,530.52 1148.10,531.30 C1151.82,532.06 1156.38,526.49 1160.50,526.50 C1164.61,526.51 1168.69,531.29 1172.80,531.30 C1176.92,531.31 1181.03,527.81 1185.20,526.50 C1189.27,525.22 1193.57,524.38 1197.50,523.50 C1201.08,522.70 1205.82,520.33 1207.80,521.40 C1209.23,522.18 1209.21,526.56 1209.80,526.50 C1210.68,526.41 1210.63,518.30 1211.90,514.20 C1213.29,509.74 1215.88,504.77 1218.10,500.80 C1220.02,497.36 1222.05,491.94 1224.20,491.60 C1225.86,491.33 1227.79,494.00 1229.40,495.70 C1231.26,497.66 1233.07,499.99 1234.50,502.90 C1236.30,506.56 1237.03,511.97 1238.60,516.30 C1240.14,520.53 1241.92,524.98 1243.80,528.60 C1245.40,531.68 1246.42,535.72 1248.90,536.80 C1251.49,537.93 1256.03,534.37 1259.20,534.80 C1262.16,535.21 1264.43,538.35 1267.40,538.90 C1270.56,539.49 1273.98,537.82 1277.70,537.90 C1282.10,537.99 1287.87,538.24 1292.10,539.90 C1296.03,541.44 1299.09,546.86 1302.40,547.10 C1305.23,547.31 1307.61,543.16 1310.60,543.00 C1314.03,542.82 1318.07,546.53 1321.90,547.20 C1325.61,547.85 1329.37,546.79 1333.20,547.10 C1337.23,547.42 1341.61,548.29 1345.50,549.20 C1349.11,550.05 1352.58,552.41 1355.80,552.30 C1358.71,552.20 1364.00,549.20 1364.00,549.20" stroke="#6a66b4" stroke-width="1.3"/>
<path d="M91.20,795.90 C91.20,795.90 93.24,820.14 94.80,826.60 C95.55,829.71 96.16,831.27 97.30,833.30 C98.41,835.29 99.66,837.83 101.50,838.70 C103.33,839.56 106.88,839.79 108.30,838.50 C110.09,836.86 109.21,832.56 109.60,827.70 C110.41,817.67 110.95,781.50 111.50,781.50 C112.05,781.50 112.18,818.35 112.90,827.70 C113.22,831.79 113.50,833.79 114.00,836.50 C114.43,838.87 114.59,841.49 115.60,843.10 C116.40,844.37 117.64,845.75 118.90,845.80 C120.48,845.86 122.63,843.47 124.40,842.00 C126.31,840.41 128.14,838.14 129.90,836.50 C131.42,835.09 132.80,832.81 134.30,832.70 C135.70,832.59 137.52,834.15 138.60,835.40 C139.72,836.69 139.67,839.11 140.80,840.40 C141.90,841.66 143.51,842.62 145.20,843.10 C147.11,843.64 150.00,843.39 151.80,843.10 C153.11,842.89 154.30,843.02 155.10,842.00 C156.72,839.93 155.48,827.77 156.20,827.70 C156.74,827.65 156.97,834.02 158.40,835.40 C159.47,836.44 161.63,835.93 162.80,836.50 C163.72,836.94 164.29,838.31 165.00,838.20 C165.93,838.06 167.01,835.85 167.70,834.30 C168.53,832.45 168.78,830.06 169.30,827.70 C169.89,825.01 170.55,822.21 171.00,819.00 C171.55,815.07 171.71,811.51 172.10,805.80 C172.82,795.30 173.62,761.01 174.50,761.00 C175.27,760.99 176.38,784.73 177.00,794.80 C177.50,802.91 177.58,810.01 178.10,816.80 C178.55,822.67 178.62,829.39 179.80,833.20 C180.49,835.44 181.38,836.61 182.50,838.20 C183.71,839.92 185.15,842.32 186.90,843.10 C188.50,843.81 190.96,843.92 192.40,843.10 C193.96,842.22 194.70,839.76 195.70,837.60 C196.97,834.84 197.95,827.77 199.00,827.70 C199.72,827.66 200.50,830.45 201.10,832.10 C201.81,834.05 202.10,836.68 202.80,838.70 C203.43,840.51 203.75,842.44 205.00,843.70 C206.37,845.09 208.93,845.59 211.00,846.40 C213.13,847.23 215.37,848.15 217.60,848.60 C219.77,849.04 222.25,848.66 224.20,849.10 C225.85,849.47 227.03,850.51 228.60,850.80 C230.28,851.11 232.14,851.10 234.00,850.80 C236.12,850.46 237.89,849.00 240.60,848.60 C244.68,847.99 250.50,848.68 256.30,849.00 C263.55,849.40 273.17,851.41 280.70,851.10 C287.26,850.83 293.35,849.48 299.00,848.00 C304.10,846.66 308.37,844.56 313.20,842.90 C318.19,841.19 324.39,837.73 328.50,837.90 C331.34,838.02 332.76,840.43 335.60,840.90 C339.46,841.54 345.77,840.78 349.80,839.90 C352.96,839.21 355.64,838.45 358.00,836.80 C360.44,835.09 362.50,832.69 364.10,829.70 C366.11,825.95 366.93,821.25 368.10,815.50 C369.84,806.93 371.15,793.07 372.20,783.00 C373.11,774.30 373.31,766.45 374.20,758.60 C375.04,751.22 376.23,737.21 377.30,737.20 C378.27,737.19 379.51,747.56 380.30,754.50 C381.47,764.79 381.39,781.72 382.40,793.10 C383.20,802.18 383.90,810.00 385.40,817.50 C386.72,824.09 387.90,831.35 390.50,835.80 C392.39,839.04 395.14,842.69 397.60,842.90 C399.89,843.10 402.92,840.57 404.70,837.90 C407.32,833.97 407.70,826.79 408.80,819.60 C410.35,809.54 410.98,796.76 411.90,783.00 C413.09,765.26 414.07,742.34 414.90,722.00 C415.73,701.67 416.15,679.62 416.90,661.00 C417.54,645.27 418.29,617.50 419.00,617.50 C419.66,617.50 420.29,640.62 421.00,654.90 C421.95,674.02 423.06,700.17 424.10,722.00 C425.09,742.82 425.60,765.87 427.10,783.00 C428.20,795.55 429.19,806.01 431.20,815.50 C432.82,823.13 434.14,830.48 437.30,835.80 C439.90,840.18 443.55,843.62 447.40,846.00 C451.04,848.25 454.95,849.13 459.60,850.00 C465.47,851.10 471.73,850.91 480.00,851.10 C492.79,851.39 513.01,851.14 528.90,850.70 C544.04,850.28 561.22,849.06 573.20,848.60 C581.36,848.29 586.72,848.67 593.80,848.00 C601.42,847.28 609.61,846.04 617.40,844.20 C625.31,842.33 633.96,838.92 640.90,836.80 C646.39,835.12 651.02,832.61 655.70,832.40 C659.83,832.22 663.06,833.65 667.50,834.80 C673.45,836.34 681.44,839.71 688.10,841.30 C694.17,842.75 699.89,843.47 705.80,844.20 C711.69,844.93 717.62,845.95 723.50,845.70 C729.39,845.45 735.51,843.89 741.10,842.70 C746.27,841.60 752.19,840.60 755.90,838.90 C758.44,837.74 759.23,835.60 761.80,834.80 C765.47,833.65 772.44,833.26 776.50,834.80 C780.15,836.19 782.12,840.23 785.40,842.70 C788.94,845.36 792.16,848.36 797.10,850.10 C803.96,852.51 812.53,852.37 823.70,853.10 C842.56,854.33 866.14,854.13 900.00,854.50 C967.42,855.23 1164.43,860.21 1202.50,855.50 C1211.53,854.38 1213.61,851.98 1219.00,851.30 C1224.03,850.67 1229.32,850.12 1233.80,851.30 C1238.04,852.41 1239.13,856.11 1245.30,857.80 C1263.79,862.85 1363.70,860.10 1363.70,860.10" stroke="#d67474" stroke-width="1.7"/>
<path d="M94.80,1054.60 C94.80,1054.60 95.55,1059.02 97.00,1060.00 C98.72,1061.16 103.21,1061.88 105.20,1060.00 C109.61,1055.83 106.14,1019.95 107.50,1019.80 C108.09,1019.73 109.07,1023.77 109.60,1027.10 C110.68,1033.92 109.16,1052.76 110.70,1058.90 C111.37,1061.59 112.07,1063.32 113.40,1064.40 C114.55,1065.33 116.33,1065.96 117.80,1065.50 C119.99,1064.81 122.02,1060.05 124.40,1057.90 C126.61,1055.90 129.42,1052.71 131.50,1052.90 C133.37,1053.07 135.19,1056.13 136.40,1057.90 C137.46,1059.45 137.18,1061.83 138.60,1062.80 C140.41,1064.05 144.68,1063.22 147.40,1063.30 C149.76,1063.37 152.53,1064.29 154.00,1063.30 C155.38,1062.37 154.82,1058.83 156.20,1057.90 C157.67,1056.91 161.07,1058.81 162.80,1057.90 C164.54,1056.99 165.64,1054.91 166.60,1052.40 C168.16,1048.32 168.08,1041.75 168.80,1034.80 C169.84,1024.74 170.62,997.85 171.80,997.80 C172.56,997.77 173.78,1007.38 174.30,1012.90 C174.92,1019.50 174.39,1027.91 174.80,1034.80 C175.17,1040.99 175.48,1047.80 176.50,1052.40 C177.19,1055.51 177.69,1058.15 179.20,1060.00 C180.55,1061.65 182.73,1063.08 184.70,1063.30 C186.75,1063.53 189.41,1062.58 191.30,1061.10 C193.60,1059.30 195.23,1052.37 196.80,1052.40 C198.03,1052.42 199.19,1055.89 200.00,1057.90 C200.86,1060.06 200.35,1063.82 201.70,1065.00 C202.81,1065.97 204.95,1065.09 206.60,1065.50 C208.41,1065.95 209.90,1067.28 212.10,1067.70 C215.09,1068.28 219.45,1067.52 223.10,1067.70 C226.75,1067.88 230.28,1068.78 234.00,1068.80 C237.90,1068.82 242.15,1067.38 246.00,1067.70 C249.67,1068.01 252.18,1069.93 256.60,1070.50 C263.68,1071.42 276.36,1071.07 284.70,1070.50 C291.44,1070.04 297.22,1069.47 302.90,1068.00 C308.20,1066.62 313.31,1063.81 317.80,1062.20 C321.45,1060.89 324.30,1059.22 327.80,1058.90 C331.49,1058.56 335.18,1060.31 339.40,1060.50 C344.41,1060.72 351.72,1061.55 355.90,1059.70 C359.25,1058.22 361.73,1054.98 363.40,1052.20 C364.90,1049.70 365.14,1047.51 365.90,1044.00 C367.21,1037.99 368.06,1027.09 369.20,1019.10 C370.26,1011.66 371.32,1004.29 372.50,997.60 C373.54,991.70 374.72,981.03 375.80,981.00 C376.64,980.98 377.59,986.79 378.30,991.00 C379.47,997.97 379.95,1009.87 380.80,1019.10 C381.62,1028.06 381.53,1038.13 383.30,1045.60 C384.67,1051.39 386.34,1057.76 389.10,1060.50 C390.93,1062.32 393.40,1063.11 395.70,1063.00 C398.33,1062.87 401.90,1061.40 404.00,1058.90 C406.87,1055.48 407.63,1049.57 408.90,1042.30 C411.20,1029.18 411.36,1005.54 412.30,986.00 C413.32,964.81 413.63,938.12 414.70,919.70 C415.46,906.51 416.57,885.80 417.40,885.80 C418.23,885.80 419.01,906.38 419.70,919.70 C420.69,938.77 420.86,970.97 422.20,989.30 C423.08,1001.33 424.32,1009.80 425.50,1019.10 C426.54,1027.33 426.94,1035.31 428.80,1042.30 C430.42,1048.40 432.03,1054.82 435.40,1058.90 C438.36,1062.48 442.62,1064.41 447.00,1066.30 C451.89,1068.41 458.04,1069.76 463.60,1070.50 C469.04,1071.23 475.21,1070.71 480.00,1070.80 C483.74,1070.87 490.00,1071.00 490.00,1071.00" stroke="#e8ad84" stroke-width="1.4"/>
</g>
<line x1="489" y1="1071.2" x2="731" y2="1071.5" stroke="#e2c4ac" stroke-width="1.3"/>
<line x1="731" y1="1071.5" x2="1365" y2="1072.2" stroke="#f3dccb" stroke-width="1.4"/>
<line x1="677" y1="856.3" x2="712.4" y2="856.3" stroke="#d8d8d8" stroke-width="1.2" stroke-dasharray="4 3"/>
<rect x="91" y="28" width="1276" height="1.6" fill="#dadada"/>
<rect x="1364.6" y="28" width="2" height="1112" fill="#c4c4c4"/>
<g fill="#000">
<rect x="86" y="25" width="2" height="1113" fill="#555"/>
<rect x="88" y="25" width="3" height="1113"/>
<rect x="86" y="25" width="1286" height="3"/>
<rect x="1367" y="25" width="3" height="1116"/>
<polygon points="88,1113 1370,1115.2 1370,1118.4 88,1117.8"/>
<polygon points="1100,1118.2 1370,1118.4 1370,1120.2 1100,1119.2" fill="#b0b0b0"/>
<rect x="262.4" y="1114" width="2.5" height="24.4"/>
<rect x="487.4" y="1114" width="2.5" height="24.4"/>
<rect x="712.4" y="1115" width="2.5" height="23.4"/>
<rect x="932.2" y="1115" width="2.6" height="23.4"/>
<rect x="1157.2" y="1115" width="2.6" height="23.4"/>
</g>
<g class="ser" font-size="75" transform="matrix(1 0 0 1.04 0 -48.44)">
<text x="71.2" y="1211">0</text>
<text x="201.9 241.2 279.8" y="1211">500</text>
<text x="452.2 490.5 527.8" y="1211">000</text>
<text x="668.7 708.9 746.5" y="1211">500</text>
<text x="860.1 897.9 936.3 974.1" y="1211">2000</text>
<text x="1085 1121.4 1161.3 1199.1" y="1211">2500</text>
<text x="1292.9 1332.1 1370.5 1407.5" y="1211">3000</text>
</g>
<g fill="#000">
<rect x="431.1" y="1161.3" width="5.2" height="48.4"/><rect x="423.4" y="1164" width="7.8" height="2.4" fill="#333"/><rect x="428.8" y="1207.4" width="10" height="2.3" fill="#555"/>
<rect x="648.6" y="1161.3" width="6.6" height="48.4"/><rect x="641" y="1164" width="7.8" height="2.4" fill="#333"/><rect x="647.5" y="1207.6" width="9" height="2.1" fill="#777"/>
</g>
<text class="ser" font-size="75" x="443.3 495.5 527.2 587.6 619.7 655 676.1 719.6 755.4 779.2 802.2 824.8 845.6 879.8" y="1294.5">Raman Shift/cm</text>
<rect x="940" y="1248" width="12.8" height="3.6" fill="#000"/>
<path d="M963.3,1228.3 L967.9,1228.3 L967.9,1260.7 L963.3,1260.7 Z M960.5,1230.4 L963.6,1228.6 L963.6,1232.2 L960.5,1233 Z" fill="#000"/>
<text class="ser" font-size="75" transform="translate(68.5,818.5) rotate(-90)" x="-5.5 20.1 57.0 79.2 112.5 149.3 180.7 200.5 219.9 260.0 280.7 313.5 333.8 371.2" y="0">Intensity/a.u.</text>
<text class="lab" font-size="61" transform="matrix(0.9303 0 0 1.0286 157.21 249.60)">GO</text>
<text class="lab" font-size="61" transform="matrix(0.9595 0 0 1.0167 152.70 472.00)">rGO</text>
<text class="lab" font-size="61" transform="matrix(0.9919 0 0 1.0190 151.61 709.20)">WG1</text>
<text class="lab" font-size="61" transform="matrix(1.0099 0 0 1.0190 146.69 951.50)">WO</text>
<text class="lab" font-size="38" transform="matrix(1.0588 0 0 1.0960 252.88 960.80)">3</text>
<text class="lab" font-size="61" transform="matrix(0.9917 0 0 1.0475 651.04 117.95)">D</text>
<text class="lab" font-size="61" transform="matrix(0.9100 0 0 1.0286 761.57 156.00)">G</text>
<text class="lab" font-size="61" transform="matrix(1.0000 0 0 1.0341 1186.70 280.83)">2D</text>
<text class="lab" font-size="61" transform="matrix(0.9778 0 0 1.0475 659.11 773.45)">D</text>
<text class="lab" font-size="61" transform="matrix(0.8775 0 0 1.0119 745.97 775.50)">G</text>
<text class="lab" font-size="61" transform="matrix(0.9944 0 0 1.0622 1192.92 817.81)">2D</text>

</svg>
</body></html>
